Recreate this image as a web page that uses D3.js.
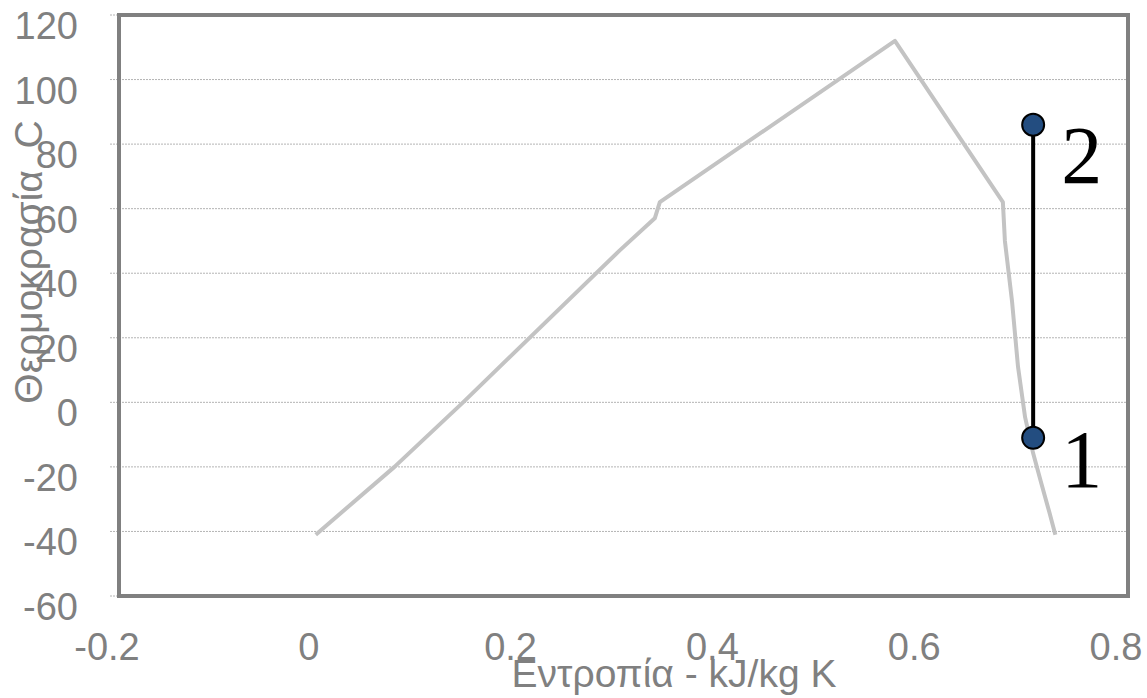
<html>
<script src="https://d3js.org/d3.v7.min.js"></script>
<body style="margin:0;background:#fff">
<div id="vis"></div>
<script>
// saturation curve (entropy kJ/kg K, temperature C)
const curveS = [-0.005, 0.073, 0.141, 0.296, 0.331, 0.336, 0.569, 0.676, 0.678, 0.685, 0.691, 0.698, 0.706, 0.714, 0.722, 0.728];
const curveT = [-41, -20, 0, 47, 57, 62, 112, 62, 50, 31.5, 11, -4.6, -15.8, -25, -34, -41];
// compression 1 -> 2
const procS = [0.706, 0.706];
const procT = [-11, 86];
const procLabels = ['1', '2'];
const xTicks = [-0.2, 0, 0.2, 0.4, 0.6, 0.8];
const yTicks = [-60, -40, -20, 0, 20, 40, 60, 80, 100, 120];

const W = 1147, H = 698;
const mLeft = 119, mRight = 1128, mTop = 15, mBottom = 596;
const grey = '#808080';

const svg = d3.select('#vis').append('svg').attr('width', W).attr('height', H);
const x = d3.scaleLinear().domain([-0.2, 0.8]).range([mLeft, mRight]);
const y = d3.scaleLinear().domain([-60, 120]).range([mBottom, mTop]);

// gridlines + small ticks
svg.selectAll('.grid').data(yTicks).enter().append('line')
    .attr('x1', mLeft - 9).attr('x2', mRight)
    .attr('y1', d => y(d)).attr('y2', d => y(d))
    .attr('stroke', '#b4b4b4').attr('stroke-width', 1)
    .attr('stroke-dasharray', '2,1');

// y labels
svg.selectAll('.ylab').data(yTicks).enter().append('text')
    .attr('x', 78).attr('y', d => y(d) + 24)
    .attr('text-anchor', 'end')
    .attr('font-family', 'Liberation Sans, Arial, sans-serif')
    .attr('font-size', 38).attr('fill', grey)
    .text(d => d);

// x labels
svg.selectAll('.xlab').data(xTicks).enter().append('text')
    .attr('x', d => x(d) - 12).attr('y', 660)
    .attr('text-anchor', 'middle')
    .attr('font-family', 'Liberation Sans, Arial, sans-serif')
    .attr('font-size', 38).attr('fill', grey)
    .text(d => d);

// curve
const pts = curveS.map((s, i) => [s, curveT[i]]);
svg.append('path').datum(pts)
    .attr('d', d3.line().x(d => x(d[0])).y(d => y(d[1])))
    .attr('fill', 'none').attr('stroke', '#c3c3c3')
    .attr('stroke-width', 4).attr('stroke-linejoin', 'round');

// frame
svg.append('rect')
    .attr('x', mLeft).attr('y', mTop)
    .attr('width', mRight - mLeft).attr('height', mBottom - mTop)
    .attr('fill', 'none').attr('stroke', grey).attr('stroke-width', 4);

// axis titles
svg.append('text')
    .attr('x', 674).attr('y', 687)
    .attr('text-anchor', 'middle')
    .attr('font-family', 'Liberation Sans, Arial, sans-serif')
    .attr('font-size', 39).attr('fill', grey)
    .text('Εντροπία - kJ/kg K');

svg.append('text')
    .attr('transform', 'translate(42,262) rotate(-90)')
    .attr('text-anchor', 'middle')
    .attr('font-family', 'Liberation Sans, Arial, sans-serif')
    .attr('font-size', 39).attr('fill', grey)
    .attr('xml:space', 'preserve').style('white-space', 'pre')
    .text('Θερμοκρασία  C');

// process line and points
const proc = procS.map((s, i) => [s, procT[i]]);
svg.append('path').datum(proc)
    .attr('d', d3.line().x(d => x(d[0])).y(d => y(d[1])))
    .attr('stroke', '#000').attr('stroke-width', 4);

svg.selectAll('.pt').data(proc).enter().append('circle')
    .attr('cx', d => x(d[0])).attr('cy', d => y(d[1]))
    .attr('r', 11)
    .attr('fill', '#234d80').attr('stroke', '#000').attr('stroke-width', 2);

svg.selectAll('.plab').data(proc).enter().append('text')
    .attr('x', d => x(d[0]) + 28)
    .attr('y', (d, i) => y(d[1]) + (i == 0 ? 49 : 58))
    .attr('font-family', 'Liberation Serif, Times New Roman, serif')
    .attr('font-size', 82).attr('fill', '#000')
    .text((d, i) => procLabels[i]);
</script>
</body>
</html>
